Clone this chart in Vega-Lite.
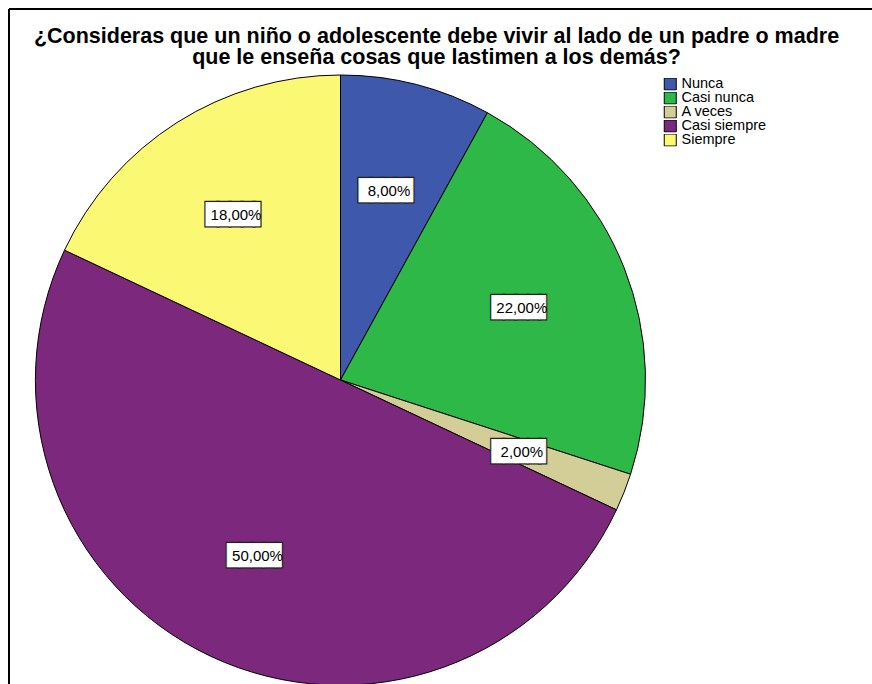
{
  "$schema": "https://vega.github.io/schema/vega-lite/v6.json",
  "width": 863,
  "height": 675,
  "autosize": {"type": "none"},
  "padding": {"left": 9, "top": 9, "right": 0, "bottom": 0},
  "background": "white",
  "config": {
    "view": {"stroke": null},
    "font": "Liberation Sans",
    "locale": {"number": {"decimal": ",", "thousands": ".", "grouping": [3], "currency": ["", " €"]}}
  },
  "title": {
    "text": ["¿Consideras que un niño o adolescente debe vivir al lado de un padre o madre", "que le enseña cosas que lastimen a los demás?"],
    "anchor": "middle",
    "font": "Liberation Sans",
    "fontSize": 21.5,
    "fontWeight": "bold",
    "color": "black",
    "lineHeight": 21,
    "baseline": "top",
    "offset": 0,
    "dy": 60,
    "dx": -4
  },
  "data": {
    "values": [
      {"respuesta": "Nunca", "orden": 1, "porcentaje": 0.08},
      {"respuesta": "Casi nunca", "orden": 2, "porcentaje": 0.22},
      {"respuesta": "A veces", "orden": 3, "porcentaje": 0.02},
      {"respuesta": "Casi siempre", "orden": 4, "porcentaje": 0.50},
      {"respuesta": "Siempre", "orden": 5, "porcentaje": 0.18}
    ]
  },
  "layer": [
    {
      "mark": {"type": "arc", "x": 331.5, "y": 371, "outerRadius": 305, "stroke": "black", "strokeWidth": 1},
      "encoding": {
        "theta": {"field": "porcentaje", "type": "quantitative", "stack": true},
        "order": {"field": "orden", "type": "quantitative"},
        "color": {
          "field": "respuesta",
          "type": "nominal",
          "scale": {
            "domain": ["Nunca", "Casi nunca", "A veces", "Casi siempre", "Siempre"],
            "range": ["#3E58AC", "#2EB848", "#D3CE97", "#7C287D", "#FBF873"]
          },
          "legend": {
            "orient": "none",
            "legendX": 654,
            "legendY": 69,
            "title": null,
            "symbolType": "square",
            "symbolSize": 144,
            "symbolStrokeColor": "black",
            "symbolStrokeWidth": 1,
            "symbolOpacity": 1,
            "labelFont": "Liberation Sans",
            "labelFontSize": 14.5,
            "labelColor": "black",
            "labelOffset": 4,
            "clipHeight": 12,
            "rowPadding": -1
          }
        }
      }
    },
    {
      "mark": {"type": "text", "x": 331.5, "y": 371, "radius": 195, "text": "████▌", "font": "DejaVu Sans Mono", "fontSize": 20, "fill": "#222222", "stroke": "#222222", "strokeWidth": 3, "baseline": "middle", "align": "center"},
      "encoding": {
        "theta": {"field": "porcentaje", "type": "quantitative", "stack": true},
        "order": {"field": "orden", "type": "quantitative"},
        "detail": {"field": "respuesta"}
      }
    },
    {
      "mark": {"type": "text", "x": 331.5, "y": 371, "radius": 195, "text": "████▌", "font": "DejaVu Sans Mono", "fontSize": 20, "fill": "white", "stroke": "white", "strokeWidth": 0.4, "baseline": "middle", "align": "center"},
      "encoding": {
        "theta": {"field": "porcentaje", "type": "quantitative", "stack": true},
        "order": {"field": "orden", "type": "quantitative"},
        "detail": {"field": "respuesta"}
      }
    },
    {
      "mark": {"type": "text", "x": 331.5, "y": 371, "radius": 195, "font": "Liberation Sans", "fontSize": 15, "fill": "black", "baseline": "middle", "align": "center"},
      "encoding": {
        "theta": {"field": "porcentaje", "type": "quantitative", "stack": true},
        "order": {"field": "orden", "type": "quantitative"},
        "detail": {"field": "respuesta"},
        "text": {"field": "porcentaje", "type": "quantitative", "format": ".2%"}
      }
    },
    {
      "data": {"values": [{}]},
      "mark": {"type": "rule", "color": "black", "strokeWidth": 2},
      "encoding": {"x": {"value": 0}, "y": {"value": 0}, "y2": {"value": "height"}}
    },
    {
      "data": {"values": [{}]},
      "mark": {"type": "rule", "color": "black", "strokeWidth": 2},
      "encoding": {"x": {"value": 0}, "x2": {"value": "width"}, "y": {"value": 0}}
    }
  ]
}
